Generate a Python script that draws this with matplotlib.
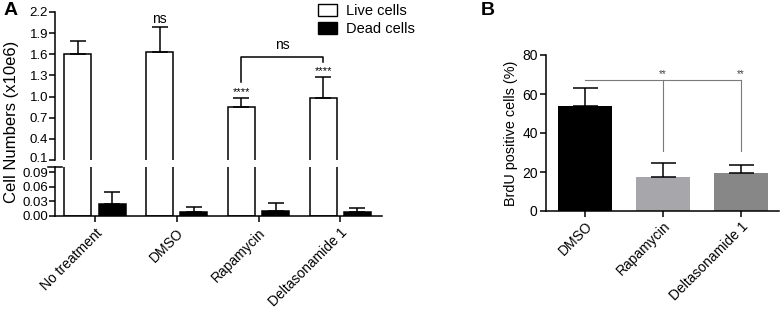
import numpy as np
import matplotlib
matplotlib.use('Agg')
import matplotlib.pyplot as plt
import matplotlib.transforms as mtransforms
from matplotlib.patches import Patch

plt.rcParams['font.family'] = ['Liberation Sans', 'DejaVu Sans']

# panel A: cell counts (x10e6)
groupsA = ['No treatment', 'DMSO', 'Rapamycin', 'Deltasonamide 1']
live = [1.60, 1.63, 0.85, 0.98]
live_err = [0.19, 0.36, 0.13, 0.30]
dead = [0.025, 0.009, 0.011, 0.009]
dead_err = [0.023, 0.009, 0.015, 0.008]
upper_ticks = [0.1, 0.4, 0.7, 1.0, 1.3, 1.6, 1.9, 2.2]
lower_ticks = [0.00, 0.03, 0.06, 0.09]

# panel B: BrdU positive cells (%)
groupsB = ['DMSO', 'Rapamycin', 'Deltasonamide 1']
brdu = [54.0, 17.5, 19.5]
brdu_err = [9.0, 7.2, 4.0]
colorsB = ['#000000', '#a7a6ab', '#878787']

W, H = 782, 312
fig = plt.figure(figsize=(W/100, H/100), dpi=100)

def fx(px):
    return px / W

def fy(px):
    return 1 - px / H

lw = 1.1
xA = np.arange(len(groupsA))
off, bw = 0.21, 0.33

ax_up = fig.add_axes([fx(55), fy(160), fx(327), (160-12)/H])
ax_lo = fig.add_axes([fx(55), fy(216), fx(327), (216-167)/H])

for ax in (ax_up, ax_lo):
    ax.bar(xA - off, live, bw, color='white', edgecolor='black', linewidth=lw)
    ax.bar(xA + off, dead, bw, color='black', edgecolor='black', linewidth=lw)
    ax.errorbar(xA - off, live, yerr=[np.zeros(4), live_err], fmt='none',
                ecolor='black', elinewidth=lw, capsize=5.5, capthick=lw)
    ax.errorbar(xA + off, dead, yerr=[np.zeros(4), dead_err], fmt='none',
                ecolor='black', elinewidth=lw, capsize=5.5, capthick=lw)
    ax.set_xlim(-0.49, 3.51)
    for s in ['top', 'right']:
        ax.spines[s].set_visible(False)
    ax.spines['left'].set_linewidth(lw)
    ax.spines['bottom'].set_linewidth(lw)
    ax.tick_params(axis='y', width=lw, length=4, labelsize=9.5, pad=1)

ax_up.set_ylim(0.1, 2.2)
ax_up.set_yticks(upper_ticks)
ax_up.set_yticklabels([f'{t:.1f}' for t in upper_ticks])
ax_up.spines['bottom'].set_visible(False)
ax_up.set_xticks([])

ax_lo.set_ylim(0, 0.1)
ax_lo.set_yticks(lower_ticks)
ax_lo.set_yticklabels([f'{t:.2f}' for t in lower_ticks])
ax_lo.set_xticks(xA)
ax_lo.set_xticklabels(groupsA, rotation=45, ha='right', rotation_mode='anchor', fontsize=10)
ax_lo.tick_params(axis='x', width=lw, length=4, pad=3)
ax_lo.plot([-0.02, 0.02], [1, 1], transform=ax_lo.transAxes, color='black',
           lw=lw, clip_on=False)

# nudge the two labels at the axis break apart a little
lab01 = ax_up.get_yticklabels()[0]
lab01.set_transform(lab01.get_transform() +
                    mtransforms.ScaledTranslation(0, 2/100, fig.dpi_scale_trans))
lab009 = ax_lo.get_yticklabels()[-1]
lab009.set_transform(lab009.get_transform() +
                     mtransforms.ScaledTranslation(0, -1/100, fig.dpi_scale_trans))

# significance marks, panel A
ax_up.text(1 - off, 2.0, 'ns', ha='center', va='bottom', fontsize=10)
ax_up.text(2 - off, 0.99, '****', ha='center', va='bottom', fontsize=8)
ax_up.text(3 - off, 1.29, '****', ha='center', va='bottom', fontsize=8)
ax_up.plot([2 - off, 2 - off, 3 - off, 3 - off], [1.21, 1.56, 1.56, 1.49],
           color='black', lw=lw)
ax_up.text(2.5 - off, 1.63, 'ns', ha='center', va='bottom', fontsize=10)

fig.text(fx(12), fy(122), 'Cell Numbers (x10e6)', rotation=90, ha='center',
         va='center', fontsize=12)
fig.text(fx(4), fy(2), 'A', fontsize=14, weight='bold', va='top')

fig.legend(handles=[Patch(facecolor='white', edgecolor='black', lw=1),
                    Patch(facecolor='black', edgecolor='black')],
           labels=['Live cells', 'Dead cells'], loc='upper left',
           bbox_to_anchor=(fx(305), fy(-9)), frameon=False, fontsize=10.5,
           handlelength=1.3, handleheight=0.9, handletextpad=0.6, labelspacing=0.25)

# panel B
xB = np.arange(len(groupsB))
axB = fig.add_axes([fx(546), fy(211), fx(233), (211-55)/H])
axB.bar(xB, brdu, 0.69, color=colorsB)
axB.errorbar(xB, brdu, yerr=[np.zeros(3), brdu_err], fmt='none', ecolor='black',
             elinewidth=lw, capsize=9, capthick=lw)
axB.set_xlim(-0.5, 2.49)
axB.set_ylim(0, 80)
axB.set_yticks([0, 20, 40, 60, 80])
axB.set_xticks(xB)
axB.set_xticklabels(groupsB, rotation=45, ha='right', rotation_mode='anchor', fontsize=10)
for s in ['top', 'right']:
    axB.spines[s].set_visible(False)
axB.spines['left'].set_linewidth(lw)
axB.spines['bottom'].set_linewidth(lw)
axB.tick_params(axis='both', width=lw, length=4, labelsize=10, pad=2)
axB.set_ylabel('BrdU positive cells (%)', fontsize=10.4, labelpad=3)

gray = '#7a7a7a'
axB.plot([0, 2], [67.2, 67.2], color=gray, lw=0.8)
axB.plot([1, 1], [67.2, 31], color=gray, lw=0.8)
axB.plot([2, 2], [67.2, 31], color=gray, lw=0.8)
axB.text(1, 67.6, '**', ha='center', va='bottom', fontsize=7, color='#444444')
axB.text(2, 67.6, '**', ha='center', va='bottom', fontsize=7, color='#444444')

fig.text(fx(481), fy(2), 'B', fontsize=14, weight='bold', va='top')

fig.savefig('out.png', dpi=100)
